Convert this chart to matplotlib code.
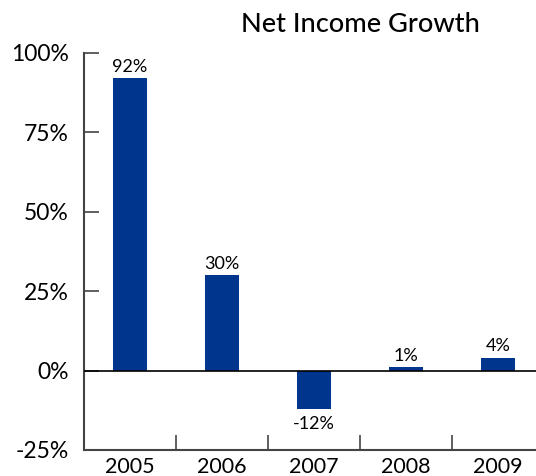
import matplotlib
matplotlib.use("Agg")
import matplotlib.pyplot as plt

# net income growth per year, in percent
years = ["2005", "2006", "2007", "2008", "2009"]
growth = [92, 30, -12, 1, 4]
yticks = [-25, 0, 25, 50, 75, 100]

plt.rcParams['font.family'] = ['Lato', 'DejaVu Sans']

fig = plt.figure(figsize=(5.36, 4.76), dpi=100)
# axis runs slightly past the right edge of the figure
ax = fig.add_axes([84 / 536, 26 / 476, 460 / 536, 397 / 476])

x = list(range(len(years)))
ax.bar(x, growth, width=0.37, color="#00358e", zorder=2)

for xi, v in zip(x, growth):
    if v >= 0:
        ax.text(xi, v + 1.2, f"{v}%", ha="center", va="bottom", fontsize=13)
    else:
        ax.text(xi, v - 2.2, f"{v}%", ha="center", va="top", fontsize=13)

ax.set_xlim(-0.5, 4.5)
ax.set_ylim(-25, 100)
ax.axhline(0, color="black", lw=1.2, zorder=3)

ax.set_yticks(yticks)
ax.set_yticklabels([f"{t}%" for t in yticks], fontsize=16.5)
ax.tick_params(axis="y", direction="in", length=11, width=1.2, color="#444444", pad=11)

# year labels centred under each bar, ticks on the boundaries
ax.set_xticks([i + 0.5 for i in x[:-1]])
ax.set_xticklabels([])
ax.tick_params(axis="x", direction="in", length=11, width=1.2, color="#444444")
for xi, yr in zip(x, years):
    ax.text(xi, -27.3, yr, ha="center", va="top", fontsize=15.5, clip_on=False)

for s in ["top", "right"]:
    ax.spines[s].set_visible(False)
ax.spines["left"].set_color("#444444")
ax.spines["left"].set_linewidth(1.5)
ax.spines["bottom"].set_color("#444444")
ax.spines["bottom"].set_linewidth(1.5)

fig.text(360 / 536, 1 - 25 / 476, "Net Income Growth", ha="center", va="center",
         fontsize=19.5, fontweight="medium")

fig.savefig("out.png", dpi=100)
